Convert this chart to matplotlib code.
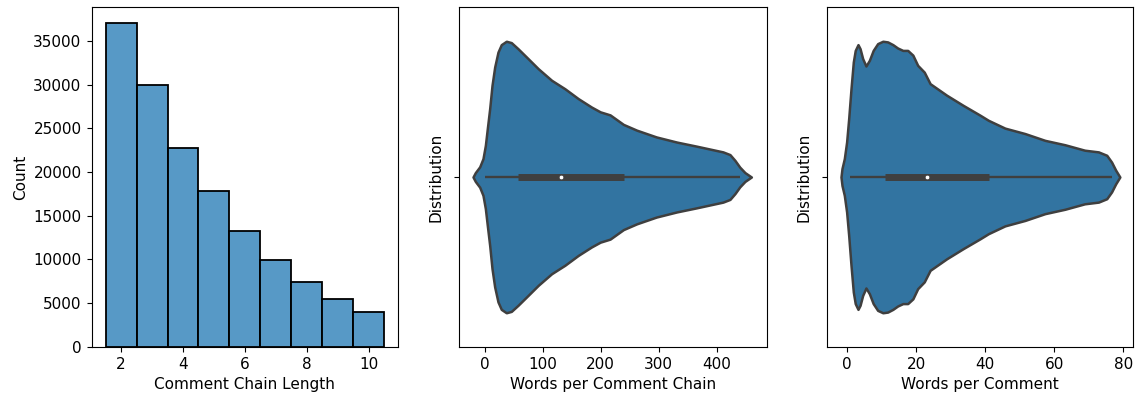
import matplotlib
matplotlib.use("Agg")
import matplotlib.pyplot as plt
from matplotlib.colors import to_rgba

# ---- data ----
chain_lengths = [2, 3, 4, 5, 6, 7, 8, 9, 10]
chain_counts = [37000, 29950, 22770, 17870, 13280, 9910, 7390, 5440, 3950]

# violin 1: words per comment chain (support, half-width)
chain_words_x = [-20.7, -16.7, -9.2, -3.5, 0.6, 4.0, 8.1, 12.1, 16.7, 22.4, 28.1, 36.8,
                 45.4, 57, 71.3, 92, 115, 138, 161, 184, 199, 216, 239, 262, 296,
                 331, 365, 411, 423, 431.6, 440, 448.9, 460]
chain_words_hw = [0.0, 0.013, 0.030, 0.054, 0.093, 0.143, 0.202, 0.270, 0.324, 0.368,
                  0.390, 0.400, 0.396, 0.378, 0.354, 0.319, 0.285, 0.260, 0.231, 0.206,
                  0.192, 0.183, 0.155, 0.138, 0.118, 0.103, 0.091, 0.074, 0.066, 0.049,
                  0.029, 0.013, 0.0]
chain_box = dict(whislo=0, q1=57.5, med=132, q3=240, whishi=440)

# violin 2: words per comment
comment_words_x = [-1.83, -1.54, -0.87, -0.2, 0.4, 1.07, 1.74, 2.3, 3.1, 3.7, 4.45, 5.4,
                   6.4, 7.5, 8.8, 10.3, 11.7, 13.2, 14.6, 16.1, 17.5, 19.0, 20.4, 22.3,
                   24, 28.8, 33.6, 38.5, 40.9, 45.7, 51.5, 57.3, 63.1, 68.8, 72.8, 75.2,
                   76.6, 77.8, 79]
comment_words_hw = [0.0, 0.025, 0.054, 0.103, 0.172, 0.260, 0.339, 0.373, 0.390, 0.378,
                    0.349, 0.327, 0.344, 0.373, 0.393, 0.400, 0.398, 0.390, 0.380, 0.373,
                    0.373, 0.359, 0.329, 0.309, 0.275, 0.241, 0.211, 0.182, 0.167, 0.144,
                    0.128, 0.108, 0.095, 0.079, 0.074, 0.064, 0.044, 0.020, 0.0]
comment_box = dict(whislo=0.7, q1=10.9, med=23.0, q3=41.1, whishi=76.6)

# ---- styling ----
plt.rcParams["font.family"] = ["DejaVu Sans"]
plt.rcParams["font.size"] = 11
W, H = 1138, 396
fig = plt.figure(figsize=(W / 100, H / 100), dpi=100)

top_px, bot_px = 7.3, 346.7
def add_ax(l, r):
    return fig.add_axes([l / W, (H - bot_px) / H, (r - l) / W, (bot_px - top_px) / H])

ax1 = add_ax(91.7, 398.0)
ax2 = add_ax(459.3, 766.7)
ax3 = add_ax(827.3, 1133.3)

blue = "#1f77b4"
vfill = "#3274a1"
gray = "#3f3f3f"

# histogram
ax1.bar(chain_lengths, chain_counts, width=1.0, align="center",
        facecolor=to_rgba(blue, 0.75), edgecolor="black", linewidth=1.3)
ax1.set_xlim(1.05, 10.95)
ax1.set_ylim(0, max(chain_counts) * 1.05)
ax1.set_xticks([2, 4, 6, 8, 10])
ax1.set_yticks([0, 5000, 10000, 15000, 20000, 25000, 30000, 35000])
ax1.set_xlabel("Comment Chain Length")
ax1.set_ylabel("Count")

def violin(ax, xs, hw, box, xlabel, xlim, xticks):
    lo = [-h for h in hw]
    ax.fill_between(xs, lo, hw, facecolor=vfill, edgecolor=gray, linewidth=1.8,
                    joinstyle="round", zorder=1)
    ax.plot([box["whislo"], box["whishi"]], [0, 0], color=gray, linewidth=1.7,
            solid_capstyle="butt", zorder=2)
    ax.plot([box["q1"], box["q3"]], [0, 0], color=gray, linewidth=5.0,
            solid_capstyle="butt", zorder=2)
    ax.scatter([box["med"]], [0], s=11, color="white", edgecolor=gray,
               linewidth=0.5, zorder=3)
    ax.set_ylim(0.5, -0.5)
    ax.set_yticks([0])
    ax.set_yticklabels([""])
    ax.set_ylabel("Distribution")
    ax.set_xlabel(xlabel)
    ax.set_xlim(*xlim)
    ax.set_xticks(xticks)

violin(ax2, chain_words_x, chain_words_hw, chain_box, "Words per Comment Chain",
       (-44.4, 486.5), [0, 100, 200, 300, 400])
violin(ax3, comment_words_x, comment_words_hw, comment_box, "Words per Comment",
       (-5.8, 82.9), [0, 20, 40, 60, 80])

for ax in (ax1, ax2, ax3):
    ax.tick_params(length=3.8)

fig.savefig("out.png", dpi=100)
